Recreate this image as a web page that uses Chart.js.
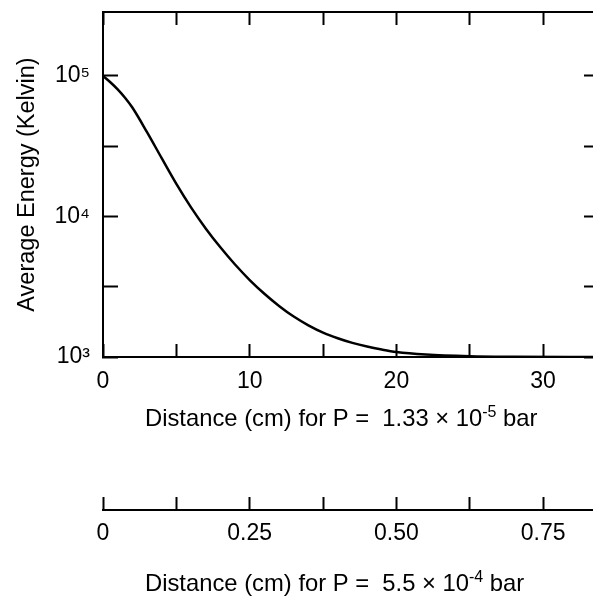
<!DOCTYPE html>
<html>
<head>
<meta charset="utf-8">
<script src="https://cdn.jsdelivr.net/npm/chart.js@4.4.1/dist/chart.umd.min.js"></script>
<style>
  html, body { margin: 0; padding: 0; background: #fff; }
  #wrap { width: 593px; height: 598px; }
</style>
</head>
<body>
<div id="wrap"><canvas id="energyChart" width="593" height="598"></canvas></div>
<script>
// Curve: distance (cm, low-pressure scale) vs average energy (K)
const distanceCm = [0, 0.5, 1, 1.5, 2, 3, 4, 5, 6, 7, 8, 9, 10, 11, 12, 13, 14, 15, 16, 17, 18, 19, 20, 22, 25, 28, 33.4];
const avgEnergyK = [100000, 90200, 80300, 70000, 59600, 39800, 26000, 17060, 11610, 8220, 6030, 4550, 3530, 2820, 2310, 1940, 1680, 1490, 1360, 1260, 1186, 1130, 1086, 1042, 1014, 1005, 1000];

// Upper distance axis (P = 1.33e-5 bar)
const xTickValues = [0, 5, 10, 15, 20, 25, 30];
const xTickLabels = ['0', '', '10', '', '20', '', '30'];

// Second distance axis (P = 5.5e-4 bar)
const x2TickValues = [0, 0.125, 0.25, 0.375, 0.5, 0.625, 0.75];
const x2TickLabels = ['0', '', '0.25', '', '0.50', '', '0.75'];

// Energy axis (log)
const yTickValues = [1000, 3162.3, 10000, 31622.8, 100000];
const yTickLabels = ['10\u00B3', '', '10\u2074', '', '10\u2075'];

const yTitle = 'Average Energy (Kelvin)';
const xTitle1 = ['Distance (cm) for P =  1.33 \u00D7 10', '-5', ' bar'];
const xTitle2 = ['Distance (cm) for P =  5.5 \u00D7 10', '-4', ' bar'];

const FONT = '"Liberation Sans", Arial, Helvetica, sans-serif';
const INK = '#000';

// helper: set a scale's box size exactly and drop the label padding
function fixSize(prop, size) {
  return (scale) => {
    scale[prop] = size;
    scale.paddingLeft = 0;
    scale.paddingRight = 0;
    scale.paddingTop = 0;
    scale.paddingBottom = 0;
  };
}

// draws text with one raised (superscript) piece
function drawSupText(ctx, parts, x, y) {
  ctx.save();
  ctx.fillStyle = INK;
  ctx.textBaseline = 'alphabetic';
  ctx.textAlign = 'left';
  let cx = x;
  parts.forEach((p, i) => {
    const sup = i === 1;
    ctx.font = (sup ? '16px ' : '23.8px ') + FONT;
    ctx.fillText(p, cx, sup ? y - 9 : y);
    cx += ctx.measureText(p).width;
  });
  ctx.restore();
}

const titlesPlugin = {
  id: 'titles',
  beforeDraw(chart) {
    const ctx = chart.ctx;
    ctx.save();
    ctx.fillStyle = '#fff';
    ctx.fillRect(0, 0, chart.width, chart.height);
    ctx.restore();
  },
  afterDraw(chart) {
    const ctx = chart.ctx;
    drawSupText(ctx, xTitle1, 145, 426);
    drawSupText(ctx, xTitle2, 145, 591);
  }
};

const ctx = document.getElementById('energyChart').getContext('2d');
new Chart(ctx, {
  type: 'line',
  data: {
    datasets: [{
      data: distanceCm.map((d, i) => ({ x: d, y: avgEnergyK[i] })),
      borderColor: INK,
      borderWidth: 2.5,
      pointRadius: 0,
      cubicInterpolationMode: 'monotone',
      fill: false,
      xAxisID: 'x',
      yAxisID: 'y'
    }]
  },
  options: {
    responsive: false,
    animation: false,
    layout: { padding: 0 },
    plugins: { legend: { display: false }, tooltip: { enabled: false } },
    scales: {
      x: {
        type: 'linear',
        position: 'bottom',
        weight: 0,
        min: 0,
        max: 33.4,
        afterBuildTicks: (s) => { s.ticks = xTickValues.map(v => ({ value: v })); },
        afterFit: fixSize('height', 153),
        ticks: {
          autoSkip: false,
          maxRotation: 0,
          padding: 24,
          color: INK,
          font: { family: FONT, size: 23 },
          callback: (v, i) => xTickLabels[i]
        },
        grid: { drawOnChartArea: false, tickLength: -13, tickWidth: 2, tickColor: INK },
        border: { display: true, color: INK, width: 2 }
      },
      x2: {
        type: 'linear',
        position: 'bottom',
        weight: 1,
        min: 0,
        max: 0.835,
        afterBuildTicks: (s) => { s.ticks = x2TickValues.map(v => ({ value: v })); },
        afterFit: fixSize('height', 88),
        ticks: {
          autoSkip: false,
          maxRotation: 0,
          padding: 23,
          color: INK,
          font: { family: FONT, size: 23 },
          callback: (v, i) => x2TickLabels[i]
        },
        grid: { drawOnChartArea: false, tickLength: -13, tickWidth: 2, tickColor: INK },
        border: { display: true, color: INK, width: 2 }
      },
      xTop: {
        type: 'linear',
        position: 'top',
        min: 0,
        max: 33.4,
        afterBuildTicks: (s) => { s.ticks = xTickValues.map(v => ({ value: v })); },
        afterFit: fixSize('height', 12),
        ticks: { display: false },
        grid: { drawOnChartArea: false, tickLength: -13, tickWidth: 2, tickColor: INK },
        border: { display: true, color: INK, width: 2 }
      },
      y: {
        type: 'logarithmic',
        position: 'left',
        min: 1000,
        max: 285000,
        afterBuildTicks: (s) => { s.ticks = yTickValues.map(v => ({ value: v })); },
        afterFit: fixSize('width', 103),
        ticks: {
          autoSkip: false,
          padding: 28,
          color: INK,
          font: { family: FONT, size: 23 },
          callback: (v, i) => yTickLabels[i]
        },
        title: {
          display: true,
          text: yTitle,
          color: INK,
          font: { family: FONT, size: 23.5 },
          padding: { top: 13, bottom: 0 }
        },
        grid: { drawOnChartArea: false, tickLength: -15, tickWidth: 2, tickColor: INK },
        border: { display: true, color: INK, width: 2 }
      },
      yRight: {
        type: 'logarithmic',
        position: 'right',
        min: 1000,
        max: 285000,
        afterBuildTicks: (s) => { s.ticks = yTickValues.map(v => ({ value: v })); },
        afterFit: fixSize('width', 0),
        ticks: { display: false },
        grid: { drawOnChartArea: false, tickLength: -9, tickWidth: 2, tickColor: INK },
        border: { display: false }
      }
    }
  },
  plugins: [titlesPlugin]
});
</script>
</body>
</html>
